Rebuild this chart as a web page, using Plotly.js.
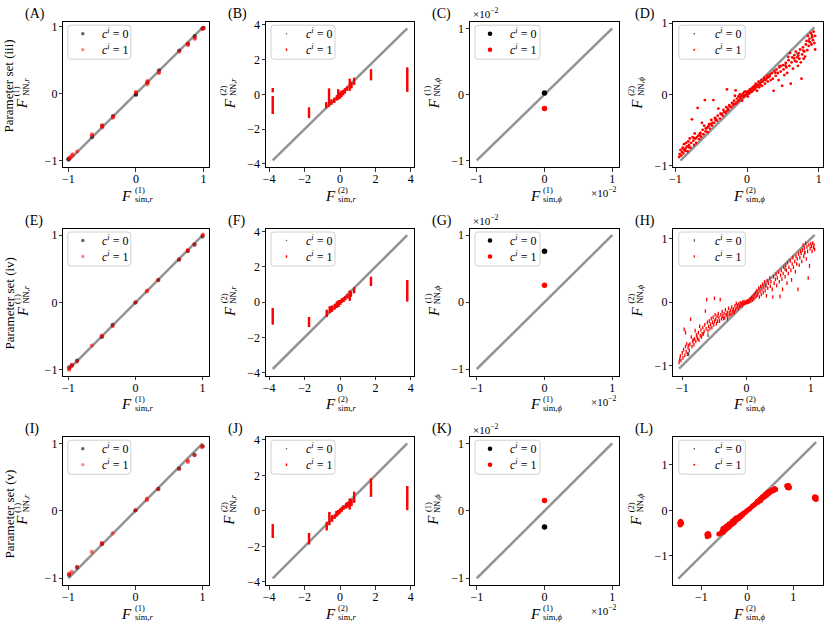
<!DOCTYPE html>
<html><head><meta charset="utf-8">
<script src="https://cdn.plot.ly/plotly-3.0.1.min.js"></script>
<style>html,body{margin:0;padding:0;background:#fff}#chart{width:831px;height:628px}</style>
</head><body><div id="chart"></div>
<script>
// ---------------- DATA ----------------
const panelLetters = ['A','B','C','D','E','F','G','H','I','J','K','L'];
const rowLabels = ['Parameter set (iii)','Parameter set (iv)','Parameter set (v)'];
const legendLabels = ['<i>c</i><sup><i>i</i></sup> = 0','<i>c</i><sup><i>i</i></sup> = 1'];
const ticksUnit = [-1,0,1];
const ticksR2 = [-4,-2,0,2,4];
const ticksPhi1 = [-0.01,0,0.01];
const ticksPhi1Text = ['\u22121','0','1'];

// identity lines (min..max of simulated values)
const diagA=[-1,1], diagB=[-3.8,3.8], diagC=[-0.01,0.01], diagD=[-0.93,0.94];
const diagE=[-1,1.01], diagF=[-3.8,3.8], diagG=[-0.01,0.01], diagH=[-1.05,1.06];
const diagI=[-1,1], diagJ=[-3.8,3.8], diagK=[-0.01,0.01], diagL=[-1.5,1.5];

// (A) set iii, F1 r
const aBlkX=[-1,-1,-0.65,-0.5,-0.34,0,0,0.17,0.34,0.64,0.77,0.87,0.985,1.0];
const aBlkY=[-0.98,-0.97,-0.645,-0.48,-0.33,-0.015,-0.005,0.17,0.35,0.645,0.745,0.86,0.975,0.985];
const aRedX=[-0.99,-0.985,-0.965,-0.94,-0.94,-0.87,-0.65,-0.65,-0.5,-0.5,-0.5,-0.34,-0.34,0,0,0.17,0.17,0.17,0.34,0.34,0.64,0.77,0.77,0.87,0.87,0.985,1.0];
const aRedY=[-0.97,-0.955,-0.94,-0.92,-0.9,-0.86,-0.62,-0.605,-0.5,-0.48,-0.465,-0.355,-0.34,0.015,0.03,0.14,0.17,0.19,0.31,0.325,0.63,0.725,0.745,0.82,0.835,0.965,0.975];
// (E) set iv, F1 r
const eBlkX=[-0.99,-0.95,-0.87,-0.5,-0.34,0,0.34,0.65,0.78,0.88,1.0];
const eBlkY=[-0.96,-0.93,-0.86,-0.51,-0.33,0.0,0.335,0.635,0.765,0.86,0.98];
const eRedX=[-0.99,-0.985,-0.95,-0.945,-0.87,-0.65,-0.5,-0.5,-0.34,0,0.17,0.175,0.34,0.65,0.78,0.78,0.88,1.0,1.005];
const eRedY=[-0.995,-0.98,-0.94,-0.925,-0.875,-0.64,-0.5,-0.49,-0.35,0.005,0.165,0.18,0.335,0.645,0.765,0.78,0.865,0.995,1.01];
// (I) set v, F1 r
const iBlkX=[-0.99,-0.87,-0.5,0,0.34,0.65,0.88,1.0];
const iBlkY=[-0.95,-0.84,-0.49,0.005,0.325,0.625,0.83,0.955];
const iRedX=[-0.99,-0.985,-0.95,-0.87,-0.65,-0.5,-0.5,-0.34,0,0.17,0.17,0.34,0.65,0.78,0.78,0.88,0.99,1.0];
const iRedY=[-0.945,-0.93,-0.905,-0.83,-0.61,-0.495,-0.475,-0.335,0.01,0.16,0.18,0.32,0.62,0.725,0.745,0.825,0.945,0.96];

// (B) F2 r : vertical clusters (x, lowest y, highest y)
const bBarX =[-3.8,-3.8,-1.75,-0.78,-0.62,-0.48,-0.32,-0.18,-0.1,0.0,0.08,0.18,0.28,0.4,0.55,0.65,0.8,1.75,3.8];
const bBarLo=[-1.13,0.12,-1.36,-0.8,-0.72,-0.6,-0.5,-0.35,-0.3,-0.25,-0.15,-0.05,0.05,0.2,0.2,0.35,0.55,0.81,0.15];
const bBarHi=[-0.1,0.36,-0.75,-0.45,0.34,-0.3,-0.2,-0.05,0.3,0.1,0.2,0.25,0.35,0.45,0.9,0.7,0.95,1.45,1.55];
// (F)
const fBarX =[-3.8,-1.75,-0.75,-0.58,-0.45,-0.3,-0.18,-0.08,0.02,0.1,0.2,0.3,0.42,0.55,0.62,0.8,1.75,3.8];
const fBarLo=[-1.27,-1.42,-0.84,-0.62,-0.55,-0.42,-0.34,-0.28,-0.15,-0.05,0.0,0.1,0.2,0.07,0.3,0.5,0.92,0.04];
const fBarHi=[-0.34,-0.84,-0.43,-0.24,-0.2,-0.1,0.04,0.1,0.12,0.2,0.25,0.35,0.45,0.66,0.6,0.84,1.44,1.25];
// (J)
const jBarX =[-3.8,-1.75,-0.75,-0.6,-0.45,-0.3,-0.2,-0.1,0.0,0.1,0.2,0.35,0.45,0.55,0.65,0.8,1.75,3.8];
const jBarLo=[-1.53,-1.89,-1.1,-0.81,-0.62,-0.45,-0.34,-0.25,-0.15,-0.05,0.05,0.13,0.2,0.08,0.27,0.45,0.79,0.04];
const jBarHi=[-0.75,-1.25,-0.62,-0.06,-0.25,-0.2,0.0,0.05,0.13,0.23,0.32,0.45,0.5,0.7,0.65,1.08,1.83,1.4];

// (C),(G),(K) F1 phi
const cBlkX=[0], cBlkY=[0.0002], cRedX=[0], cRedY=[-0.00215];
const gBlkX=[0], gBlkY=[0.0076], gRedX=[0], gRedY=[0.0025];
const kBlkX=[0], kBlkY=[-0.0024], kRedX=[0], kRedY=[0.00155];

// (D) set iii, F2 phi  [x, y]
const dRedPts=[[-0.95,-0.88],[-0.94,-0.84],[-0.93,-0.78],[-0.92,-0.86],[-0.91,-0.81],[-0.9,-0.75],[-0.89,-0.83],[-0.88,-0.7],[-0.87,-0.79],[-0.86,-0.76],[-0.85,-0.68],[-0.84,-0.73],[-0.83,-0.8],[-0.82,-0.66],[-0.81,-0.71],[-0.8,-0.62],[-0.79,-0.75],[-0.78,-0.68],[-0.77,-0.35],[-0.76,-0.6],[-0.75,-0.65],[-0.74,-0.71],[-0.73,-0.55],[-0.72,-0.62],[-0.71,-0.68],[-0.7,-0.6],[-0.69,-0.19],[-0.68,-0.58],[-0.67,-0.63],[-0.66,-0.55],[-0.65,-0.54],[-0.64,-0.6],[-0.63,-0.4],[-0.62,-0.5],[-0.61,-0.56],[-0.6,-0.44],[-0.59,-0.08],[-0.58,-0.52],[-0.57,-0.48],[-0.56,-0.47],[-0.55,-0.53],[-0.54,-0.45],[-0.53,-0.42],[-0.52,-0.48],[-0.5,-0.36],[-0.49,-0.44],[-0.48,-0.4],[-0.47,-0.08],[-0.46,-0.4],[-0.45,-0.33],[-0.44,-0.36],[-0.42,-0.37],[-0.41,-0.3],[-0.4,-0.2],[-0.38,-0.34],[-0.37,-0.27],[-0.36,-0.28],[-0.34,-0.3],[-0.33,-0.22],[-0.32,-0.25],[-0.3,-0.26],[-0.29,-0.18],[-0.28,0.07],[-0.27,-0.2],[-0.26,-0.22],[-0.25,-0.15],[-0.24,-0.17],[-0.22,-0.18],[-0.21,-0.12],[-0.2,-0.13],[-0.19,-0.15],[-0.18,-0.09],[-0.17,-0.02],[-0.16,0.055],[-0.15,-0.12],[-0.14,-0.06],[-0.13,-0.1],[-0.12,-0.03],[-0.11,-0.08],[-0.1,0.0],[-0.09,-0.06],[-0.08,-0.02],[-0.07,-0.09],[-0.06,0.01],[-0.05,-0.04],[-0.04,0.03],[-0.03,-0.02],[-0.02,0.04],[-0.01,0.0],[0.0,0.02],[0.01,-0.03],[0.02,0.05],[0.03,0.01],[0.04,0.07],[0.05,0.03],[0.06,0.08],[0.07,0.04],[0.08,0.1],[0.09,0.06],[0.1,0.12],[0.11,0.07],[0.12,0.15],[0.13,0.1],[0.14,0.05],[0.15,0.13],[0.16,0.18],[0.17,0.1],[0.18,0.16],[0.2,0.2],[0.21,0.12],[0.22,0.18],[0.24,0.23],[0.25,0.15],[0.26,0.2],[0.28,0.26],[0.29,0.18],[0.3,0.24],[0.32,0.28],[0.33,0.2],[0.35,0.3],[0.36,0.22],[0.37,0.05],[0.38,0.33],[0.4,0.26],[0.41,0.35],[0.43,0.3],[0.44,0.2],[0.45,0.38],[0.47,0.32],[0.49,0.12],[0.5,0.41],[0.51,0.35],[0.52,0.27],[0.54,0.44],[0.55,0.38],[0.56,0.3],[0.58,0.48],[0.59,0.4],[0.6,0.58],[0.61,0.15],[0.62,0.45],[0.63,0.52],[0.64,0.36],[0.66,0.55],[0.67,0.47],[0.68,0.6],[0.69,0.46],[0.7,0.52],[0.71,0.4],[0.72,0.58],[0.73,0.5],[0.74,0.63],[0.75,0.45],[0.76,0.22],[0.77,0.56],[0.78,0.66],[0.79,0.5],[0.8,0.6],[0.81,0.53],[0.82,0.7],[0.83,0.75],[0.84,0.62],[0.85,0.82],[0.86,0.68],[0.87,0.78],[0.88,0.73],[0.89,0.86],[0.9,0.7],[0.91,0.8],[0.92,0.76],[0.93,0.88],[0.94,0.72],[0.95,0.63],[0.95,0.82],
[-0.885,-0.775],[-0.815,-0.745],[-0.735,-0.615],[-0.655,-0.575],[-0.575,-0.475],[-0.505,-0.415],[-0.435,-0.345],[-0.355,-0.275],[-0.285,-0.235],[-0.235,-0.175],[-0.165,-0.135],[-0.095,-0.035],[-0.045,-0.015],[0.015,0.025],[0.055,0.055],[0.095,0.085],[0.135,0.125],[0.185,0.135],[0.235,0.205],[0.275,0.225],[0.315,0.255],[0.395,0.305],[0.465,0.395],[0.535,0.405],[0.575,0.525],[0.655,0.505],[0.715,0.545],[0.785,0.615],[0.865,0.745],[0.905,0.835]];
const dBlkPts=[[-0.85,-0.8],[-0.5,-0.43],[-0.2,-0.15],[0.0,0.0],[0.2,0.17],[0.45,0.4],[0.7,0.57],[0.9,0.8]];

// (H) set iv, F2 phi
const hRedPts=[[-1.05,-0.95],[-1.04,-0.9],[-1.03,-0.85],[-1.02,-0.92],[-1.0,-0.8],[-0.99,-0.88],[-0.98,-0.75],[-0.97,-0.43],[-0.96,-0.84],[-0.95,-0.48],[-0.95,-0.7],[-0.94,-0.78],[-0.93,-0.66],[-0.92,-0.82],[-0.91,-0.72],[-0.9,-0.68],[-0.89,-0.76],[-0.88,-0.66],[-0.87,-0.27],[-0.86,-0.55],[-0.85,-0.7],[-0.84,-0.62],[-0.83,-0.6],[-0.82,-0.67],[-0.81,-0.58],[-0.8,-0.45],[-0.79,-0.62],[-0.78,-0.52],[-0.77,-0.55],[-0.76,-0.58],[-0.75,-0.48],[-0.74,-0.6],[-0.73,-0.38],[-0.72,-0.53],[-0.71,-0.44],[-0.7,-0.55],[-0.69,-0.5],[-0.68,-0.4],[-0.67,-0.5],[-0.66,-0.46],[-0.65,-0.36],[-0.64,-0.14],[-0.63,-0.42],[-0.62,0.04],[-0.61,-0.32],[-0.6,-0.45],[-0.59,-0.38],[-0.58,-0.3],[-0.57,-0.42],[-0.56,-0.35],[-0.55,-0.26],[-0.54,-0.4],[-0.53,-0.32],[-0.52,-0.24],[-0.51,-0.36],[-0.5,0.06],[-0.5,-0.3],[-0.49,-0.2],[-0.48,-0.27],[-0.47,-0.34],[-0.46,-0.22],[-0.45,-0.3],[-0.44,-0.18],[-0.43,-0.24],[-0.42,-0.3],[-0.41,0.04],[-0.4,-0.2],[-0.39,-0.26],[-0.38,-0.15],[-0.37,-0.22],[-0.36,-0.26],[-0.35,-0.18],[-0.34,-0.25],[-0.33,-0.12],[-0.32,-0.2],[-0.31,-0.2],[-0.3,-0.16],[-0.29,-0.22],[-0.28,-0.1],[-0.27,-0.17],[-0.26,-0.2],[-0.25,-0.13],[-0.24,-0.19],[-0.23,-0.08],[-0.22,-0.14],[-0.21,-0.17],[-0.2,-0.11],[-0.19,-0.16],[-0.18,-0.06],[-0.17,-0.12],[-0.16,-0.02],[-0.15,-0.09],[-0.14,-0.05],[-0.13,-0.1],[-0.12,-0.03],[-0.11,-0.07],[-0.1,-0.01],[-0.09,-0.05],[-0.08,-0.02],[-0.07,-0.06],[-0.06,0.0],[-0.05,-0.03],[-0.04,0.01],[-0.03,-0.02],[-0.02,0.0],[-0.01,-0.01],[0.0,0.01],[0.01,-0.01],[0.02,0.02],[0.03,0.0],[0.04,0.03],[0.05,0.01],[0.06,0.05],[0.07,0.02],[0.08,0.07],[0.09,0.03],[0.1,0.09],[0.11,0.05],[0.12,0.12],[0.13,0.07],[0.14,0.15],[0.15,0.09],[0.16,0.18],[0.17,0.11],[0.18,0.14],[0.19,0.22],[0.2,0.08],[0.21,0.17],[0.22,0.25],[0.23,0.12],[0.24,0.2],[0.25,0.28],[0.26,0.15],[0.27,0.23],[0.28,0.32],[0.29,0.18],[0.3,0.26],[0.31,0.1],[0.32,0.34],[0.33,0.22],[0.34,0.3],[0.36,0.38],[0.37,0.25],[0.38,0.32],[0.4,0.2],[0.41,0.08],[0.42,0.4],[0.43,0.3],[0.45,0.36],[0.46,0.44],[0.47,0.26],[0.48,0.38],[0.5,0.47],[0.51,0.32],[0.52,0.09],[0.53,0.42],[0.54,0.5],[0.55,0.36],[0.56,0.2],[0.57,0.45],[0.58,0.55],[0.6,0.4],[0.61,0.58],[0.62,0.5],[0.63,0.3],[0.64,0.62],[0.65,0.45],[0.66,0.55],[0.68,0.65],[0.69,0.5],[0.7,0.35],[0.71,0.6],[0.72,0.7],[0.73,0.55],[0.75,0.64],[0.76,0.48],[0.77,0.72],[0.78,0.6],[0.79,0.68],[0.8,0.2],[0.81,0.76],[0.82,0.58],[0.83,0.7],[0.84,0.8],[0.85,0.77],[0.86,0.64],[0.87,0.82],[0.88,0.9],[0.89,0.72],[0.9,0.85],[0.91,0.78],[0.92,0.93],[0.93,0.68],[0.94,0.87],[0.95,0.8],[0.96,0.38],[0.97,0.9],[0.98,0.57],[0.99,0.84],[1.0,0.92],[1.01,0.88],[1.02,0.8],[1.03,0.93],[1.04,0.86],[1.05,0.9],[1.06,0.83]];
const hBlkPts=[[-0.9,-0.82],[-0.6,-0.52],[-0.3,-0.26],[0,0],[0.3,0.26],[0.6,0.52],[0.9,0.78]];

// (L) set v, F2 phi
const lRedPts=[[-1.47,-0.27],[-1.45,-0.3],[-1.44,-0.26],[-1.46,-0.32],[-1.43,-0.28],[-1.45,-0.24],
[-0.88,-0.53],[-0.86,-0.56],[-0.84,-0.52],[-0.87,-0.58],[-0.85,-0.54],[-0.83,-0.56],[-0.86,-0.51],
[-0.62,-0.52],[-0.58,-0.5],[-0.55,-0.46],[-0.53,-0.4],[-0.52,-0.48],[-0.5,-0.38],[-0.48,-0.43],[-0.46,-0.35],[-0.45,-0.4],[-0.43,-0.33],[-0.41,-0.38],[-0.4,-0.3],[-0.38,-0.35],[-0.36,-0.28],[-0.35,-0.32],[-0.33,-0.24],[-0.32,-0.3],[-0.3,-0.22],[-0.28,-0.27],[-0.27,-0.19],[-0.25,-0.23],[-0.24,-0.16],[-0.22,-0.2],[-0.2,-0.15],[-0.18,-0.18],[-0.16,-0.12],[-0.14,-0.14],[-0.12,-0.09],[-0.1,-0.1],[-0.08,-0.06],[-0.05,-0.05],[-0.02,-0.02],[0.0,0.0],[0.03,0.02],[0.06,0.04],[0.1,0.08],[0.12,0.1],[0.15,0.12],[0.17,0.14],[0.2,0.16],[0.22,0.2],[0.24,0.18],[0.26,0.22],[0.28,0.25],[0.3,0.22],[0.31,0.27],[0.33,0.3],[0.35,0.28],[0.37,0.33],[0.38,0.3],[0.4,0.36],[0.42,0.33],[0.43,0.38],[0.45,0.4],[0.46,0.36],[0.48,0.42],[0.5,0.4],[0.52,0.44],[0.54,0.42],[0.56,0.46],[0.58,0.44],[0.6,0.48],[0.62,0.46],
[0.86,0.54],[0.88,0.5],[0.9,0.53],[0.92,0.51],[0.87,0.52],[0.9,0.55],[0.91,0.49],
[1.46,0.28],[1.48,0.25],[1.5,0.29],[1.47,0.3],[1.49,0.26],[1.5,0.24]];
const lBlkPts=[[-0.5,-0.45],[0,0],[0.4,0.35]];

// ---------------- LAYOUT GEOMETRY ----------------
const W=831, H=628;
const FONT="'Liberation Serif', serif";
const colL=[63.3,266,470,673.3], colR=[209.3,414,619,823];
const rowT=[21.7,228.5,436.7], rowB=[167,375.7,585];
const rowLabelY=[86,304,514];
// legend geometry per column (offsets from frame left): box left, box right, symbol x, text x
const legGeom=[[4.5,67.5,19.5,38],[5,69,20.5,39],[5,70,20,39],[5.5,72,21,41]];

const panels=[
 {kind:'pts', diag:diagA, blk:[aBlkX,aBlkY], red:[aRedX,aRedY], xr:[-1.075,1.085], yr:[-1.09,1.075], tv:ticksUnit, sup:'(1)', subx:'sim,<i>r</i>', suby:'NN,<i>r</i>'},
 {kind:'bar', diag:diagB, bar:[bBarX,bBarLo,bBarHi], xr:[-4.18,4.18], yr:[-4.18,4.18], tv:ticksR2, sup:'(2)', subx:'sim,<i>r</i>', suby:'NN,<i>r</i>'},
 {kind:'phi1', diag:diagC, blk:[cBlkX,cBlkY], red:[cRedX,cRedY], xr:[-0.011,0.011], yr:[-0.011,0.011], tv:ticksPhi1, tt:ticksPhi1Text, sup:'(1)', subx:'sim,<i>ϕ</i>', suby:'NN,<i>ϕ</i>', multTop:12.5},
 {kind:'cloud', diag:diagD, blkP:dBlkPts, redP:dRedPts, xr:[-1.03,1.06], yr:[-1.02,1.02], tv:ticksUnit, sup:'(2)', subx:'sim,<i>ϕ</i>', suby:'NN,<i>ϕ</i>', msize:2.8, sym:'circle', leg:'dot'},
 {kind:'pts', diag:diagE, blk:[eBlkX,eBlkY], red:[eRedX,eRedY], xr:[-1.075,1.1], yr:[-1.085,1.1], tv:ticksUnit, sup:'(1)', subx:'sim,<i>r</i>', suby:'NN,<i>r</i>'},
 {kind:'bar', diag:diagF, bar:[fBarX,fBarLo,fBarHi], xr:[-4.18,4.18], yr:[-4.18,4.18], tv:ticksR2, sup:'(2)', subx:'sim,<i>r</i>', suby:'NN,<i>r</i>'},
 {kind:'phi1', diag:diagG, blk:[gBlkX,gBlkY], red:[gRedX,gRedY], xr:[-0.011,0.011], yr:[-0.011,0.011], tv:ticksPhi1, tt:ticksPhi1Text, sup:'(1)', subx:'sim,<i>ϕ</i>', suby:'NN,<i>ϕ</i>', multTop:220},
 {kind:'cloud', diag:diagH, blkP:hBlkPts, redP:hRedPts, xr:[-1.14,1.19], yr:[-1.16,1.16], tv:ticksUnit, sup:'(2)', subx:'sim,<i>ϕ</i>', suby:'NN,<i>ϕ</i>', msize:2.6, sym:'line-ns-open', leg:'dash'},
 {kind:'pts', diag:diagI, blk:[iBlkX,iBlkY], red:[iRedX,iRedY], xr:[-1.075,1.1], yr:[-1.1,1.1], tv:ticksUnit, sup:'(1)', subx:'sim,<i>r</i>', suby:'NN,<i>r</i>'},
 {kind:'bar', diag:diagJ, bar:[jBarX,jBarLo,jBarHi], xr:[-4.18,4.18], yr:[-4.18,4.18], tv:ticksR2, sup:'(2)', subx:'sim,<i>r</i>', suby:'NN,<i>r</i>'},
 {kind:'phi1', diag:diagK, blk:[kBlkX,kBlkY], red:[kRedX,kRedY], xr:[-0.011,0.011], yr:[-0.011,0.011], tv:ticksPhi1, tt:ticksPhi1Text, sup:'(1)', subx:'sim,<i>ϕ</i>', suby:'NN,<i>ϕ</i>', multTop:428.5},
 {kind:'cloud', diag:diagL, blkP:lBlkPts, redP:lRedPts, xr:[-1.61,1.65], yr:[-1.64,1.62], tv:ticksUnit, sup:'(2)', subx:'sim,<i>ϕ</i>', suby:'NN,<i>ϕ</i>', msize:5, sym:'circle', leg:'dot'}
];

const px=x=>x/W, py=y=>1-y/H;
function ann(text,x,y,o){return Object.assign({text:text,x:px(x),y:py(y),xref:'paper',yref:'paper',showarrow:false,borderpad:0,font:{family:FONT,size:12,color:'#000'}},o||{});}
const fFont={family:FONT,size:15,color:'#000'}, iFont={family:FONT,size:8.5,color:'#000'};
function xLabel(cx,cy,sup,sub){
  const x0=cx-3;
  return [ann('<i>F</i>',x0,cy,{xanchor:'right',yanchor:'middle',font:fFont}),
          ann(sup,x0+0.3,cy-5.5,{xanchor:'left',yanchor:'middle',font:iFont}),
          ann(sub,x0+0.3,cy+3.5,{xanchor:'left',yanchor:'middle',font:iFont})];
}
function yLabel(cx,cy,sup,sub){
  const y0=cy+3;
  return [ann('<i>F</i>',cx,y0,{xanchor:'center',yanchor:'top',textangle:-90,font:fFont}),
          ann(sup,cx-6,y0-0.3,{xanchor:'center',yanchor:'bottom',textangle:-90,font:iFont}),
          ann(sub,cx+3.5,y0-0.3,{xanchor:'center',yanchor:'bottom',textangle:-90,font:iFont})];
}
function roundRect(x0,y0,x1,y1,r){
  const X=v=>px(v).toFixed(5), Y=v=>py(v).toFixed(5);
  return 'M'+X(x0+r)+','+Y(y0)+' L'+X(x1-r)+','+Y(y0)+' Q'+X(x1)+','+Y(y0)+' '+X(x1)+','+Y(y0+r)+
    ' L'+X(x1)+','+Y(y1-r)+' Q'+X(x1)+','+Y(y1)+' '+X(x1-r)+','+Y(y1)+
    ' L'+X(x0+r)+','+Y(y1)+' Q'+X(x0)+','+Y(y1)+' '+X(x0)+','+Y(y1-r)+
    ' L'+X(x0)+','+Y(y0+r)+' Q'+X(x0)+','+Y(y0)+' '+X(x0+r)+','+Y(y0)+' Z';
}
function dotShape(x,y,d,color){return {type:'circle',xref:'paper',yref:'paper',xsizemode:'pixel',ysizemode:'pixel',
  xanchor:px(x),yanchor:py(y),x0:-d/2,x1:d/2,y0:-d/2,y1:d/2,fillcolor:color,line:{width:0},layer:'above'};}
function dashShape(x,y,h,w,color){return {type:'line',xref:'paper',yref:'paper',xsizemode:'pixel',ysizemode:'pixel',
  xanchor:px(x),yanchor:py(y),x0:0,x1:0,y0:-h/2,y1:h/2,line:{width:w,color:color},layer:'above'};}

const traces=[];
const layout={width:W,height:H,margin:{l:0,r:0,t:0,b:0},paper_bgcolor:'#fff',plot_bgcolor:'#fff',
  showlegend:false,font:{family:FONT,size:12,color:'#000'},annotations:[],shapes:[]};
const axisStyle={showline:true,mirror:true,linecolor:'#000',linewidth:1,ticks:'outside',ticklen:3.5,tickwidth:0.8,
  tickcolor:'#000',showgrid:false,zeroline:false,tickfont:{family:FONT,size:12,color:'#000'},fixedrange:true};
const tickTxt=v=>v<0?'\u2212'+(-v):String(v);

panels.forEach((p,i)=>{
  const r=Math.floor(i/4), c=i%4;
  const n=i===0?'':String(i+1);
  const xid='x'+n, yid='y'+n;
  const L=colL[c],R=colR[c],T=rowT[r],B=rowB[r];
  layout['xaxis'+n]=Object.assign({},axisStyle,{domain:[px(L),px(R)],range:p.xr,anchor:yid,tickmode:'array',tickvals:p.tv,ticktext:p.tt||p.tv.map(tickTxt),ticklabelstandoff:-3});
  layout['yaxis'+n]=Object.assign({},axisStyle,{domain:[py(B),py(T)],range:p.yr,anchor:xid,tickmode:'array',tickvals:p.tv,ticktext:p.tt||p.tv.map(tickTxt),ticklabelstandoff:-1});
  traces.push({type:'scatter',mode:'lines',x:p.diag,y:p.diag,xaxis:xid,yaxis:yid,hoverinfo:'skip',
    line:{color:'rgba(128,128,128,0.85)',width:2.5}});
  const base={type:'scatter',mode:'markers',xaxis:xid,yaxis:yid,hoverinfo:'skip'};
  let leg0, leg1;
  if(p.kind==='pts'){
    traces.push(Object.assign({},base,{x:p.blk[0],y:p.blk[1],name:'c0',marker:{size:4.2,color:'rgba(0,0,0,0.6)'}}));
    traces.push(Object.assign({},base,{x:p.red[0],y:p.red[1],name:'c1',marker:{size:4.2,color:'rgba(255,0,0,0.55)'}}));
    leg0=(x,y)=>dotShape(x,y,3.6,'rgba(0,0,0,0.6)'); leg1=(x,y)=>dotShape(x,y,3.6,'rgba(255,0,0,0.45)');
  } else if(p.kind==='phi1'){
    traces.push(Object.assign({},base,{x:p.blk[0],y:p.blk[1],name:'c0',marker:{size:5.5,color:'#000'}}));
    traces.push(Object.assign({},base,{x:p.red[0],y:p.red[1],name:'c1',marker:{size:5.5,color:'#ff0000'}}));
    leg0=(x,y)=>dotShape(x,y,4.6,'#000'); leg1=(x,y)=>dotShape(x,y,4.6,'#ff0000');
  } else if(p.kind==='bar'){
    const [bx,lo,hi]=p.bar;
    const mid=lo.map((v,k)=>(v+hi[k])/2);
    const up=hi.map((v,k)=>v-mid[k]), dn=lo.map((v,k)=>mid[k]-v);
    traces.push(Object.assign({},base,{x:bx,y:mid,name:'c0',marker:{size:1.5,color:'rgba(90,90,90,0.8)'},
      error_y:{type:'data',symmetric:false,array:up,arrayminus:dn,width:0,thickness:1.5,color:'rgba(90,90,90,0.8)'}}));
    traces.push(Object.assign({},base,{x:bx,y:mid,name:'c1',marker:{size:1.5,color:'#ff0000'},
      error_y:{type:'data',symmetric:false,array:up,arrayminus:dn,width:0,thickness:2.4,color:'#ff0000'}}));
    leg0=(x,y)=>dotShape(x,y,1.6,'rgba(60,60,60,0.8)'); leg1=(x,y)=>dashShape(x,y,2.6,1.4,'#ff0000');
  } else {
    const sym=p.sym, open=sym.indexOf('open')>=0;
    traces.push(Object.assign({},base,{x:p.blkP.map(q=>q[0]),y:p.blkP.map(q=>q[1]),name:'c0',
      marker:{size:open?2.6:2,color:'#333',symbol:sym,line:{width:open?1.1:0,color:'#333'}}}));
    traces.push(Object.assign({},base,{x:p.redP.map(q=>q[0]),y:p.redP.map(q=>q[1]),name:'c1',
      marker:{size:p.msize,color:'#ff0000',symbol:sym,line:{width:open?1.3:0,color:'#ff0000'}}}));
    if(p.leg==='dash'){leg0=(x,y)=>dashShape(x,y,2.6,1,'#333'); leg1=(x,y)=>dashShape(x,y,2.6,1.2,'#ff0000');}
    else {leg0=(x,y)=>dotShape(x,y,1.6,'#333'); leg1=(x,y)=>dotShape(x,y,2,'#ff0000');}
  }
  // legend (drawn as box + symbols + text)
  const g=legGeom[c];
  layout.shapes.push({type:'path',xref:'paper',yref:'paper',path:roundRect(L+g[0],T+3.5,L+g[1],T+37.5,3),
    fillcolor:'rgba(255,255,255,0.8)',line:{color:'#d0d0d0',width:1},layer:'above'});
  layout.shapes.push(leg0(L+g[2],T+12));
  layout.shapes.push(leg1(L+g[2],T+28));
  layout.annotations.push(ann(legendLabels[0],L+g[3],T+12,{xanchor:'left',yanchor:'middle'}));
  layout.annotations.push(ann(legendLabels[1],L+g[3],T+28,{xanchor:'left',yanchor:'middle'}));

  const cx=(L+R)/2, cy=(T+B)/2;
  layout.annotations.push(ann('('+panelLetters[i]+')',L-39.5,T-8,{xanchor:'left',yanchor:'middle',font:{family:FONT,size:14,color:'#000'}}));
  layout.annotations.push(...xLabel(cx,B+28.5,p.sup,p.subx));
  layout.annotations.push(...yLabel(c===0?L-41:L-36.5,cy,p.sup,p.suby));
  if(p.kind==='phi1'){
    layout.annotations.push(ann('\u00d710<sup>\u22122</sup>',L+2,p.multTop,{xanchor:'left',yanchor:'middle',font:{family:FONT,size:11,color:'#000'}}));
    layout.annotations.push(ann('\u00d710<sup>\u22122</sup>',R-1,B+25,{xanchor:'right',yanchor:'middle',font:{family:FONT,size:11,color:'#000'}}));
  }
});
rowLabels.forEach((t,r)=>{
  layout.annotations.push(ann(t,8.5,rowLabelY[r],{xanchor:'center',yanchor:'middle',textangle:-90,font:{family:FONT,size:13,color:'#000'}}));
});

Plotly.newPlot('chart',traces,layout,{staticPlot:true,displayModeBar:false});
</script></body></html>
